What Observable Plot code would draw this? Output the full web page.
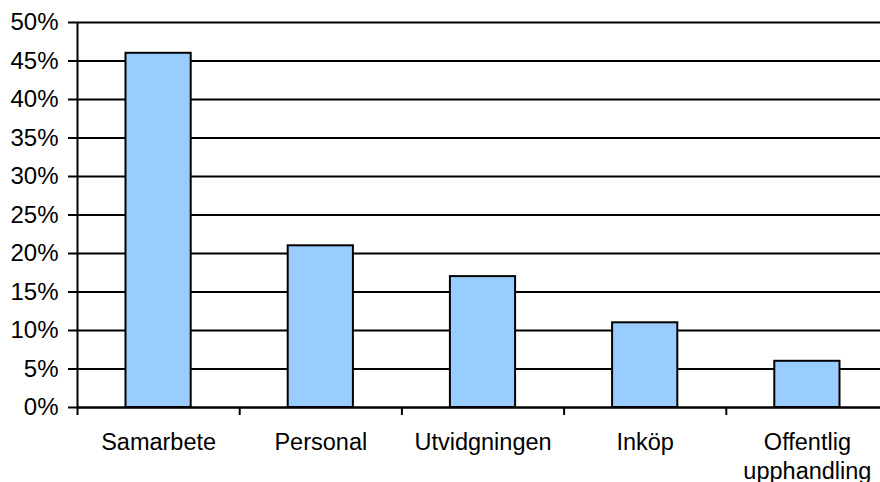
<!DOCTYPE html>
<html>
<head>
<meta charset="utf-8">
<script src="https://cdn.jsdelivr.net/npm/d3@7"></script>
<script src="https://cdn.jsdelivr.net/npm/@observablehq/plot@0.6"></script>
<style>
  html, body { margin: 0; padding: 0; background: #fff; overflow: hidden; }
  #chart { width: 880px; height: 482px; overflow: hidden; }
</style>
</head>
<body>
<div id="chart"></div>
<script>
const categories = ["Samarbete", "Personal", "Utvidgningen", "Inköp", "Offentlig\nupphandling"];
const values = [46, 21, 17, 11, 6];
const yTicks = [0, 5, 10, 15, 20, 25, 30, 35, 40, 45, 50];
const bandEdges = [0, 1, 2, 3, 4, 5];

const data = categories.map((c, i) => ({ cat: c, idx: i, value: values[i] }));

const chart = Plot.plot({
  width: 880,
  height: 482,
  marginLeft: 77,
  marginRight: -8,
  marginTop: 22,
  marginBottom: 75,
  style: { fontFamily: "'Liberation Sans', Arial, sans-serif", background: "#fff", color: "#000" },
  x: { type: "linear", domain: [0, 5], axis: null },
  y: { domain: [0, 50], axis: null },
  marks: [
    Plot.gridY(yTicks, { stroke: "#000", strokeOpacity: 1, strokeWidth: 2 }),
    Plot.rectY(data, {
      x1: "idx",
      x2: d => d.idx + 1,
      y: "value",
      insetLeft: 48.5,
      insetRight: 48.5,
      fill: "#99CCFF",
      stroke: "#000",
      strokeWidth: 2
    }),
    Plot.axisY({
      ticks: yTicks,
      tickSize: 9,
      tickPadding: 10,
      tickFormat: d => d + "%",
      fontSize: 24,
      stroke: "#000",
      strokeWidth: 2,
      label: null
    }),
    Plot.ruleX([0], { stroke: "#000", strokeWidth: 2 }),
    Plot.ruleY([0], { stroke: "#000", strokeWidth: 2 }),
    Plot.axisX({
      ticks: bandEdges,
      tickSize: 8,
      tickFormat: () => "",
      stroke: "#000",
      strokeWidth: 2,
      label: null
    }),
    Plot.text(data, {
      x: d => d.idx + 0.5,
      y: 0,
      text: "cat",
      lineAnchor: "top",
      dy: 21,
      lineHeight: 1.26,
      fontSize: 23.5,
      fill: "#000",
      textAnchor: "middle"
    })
  ]
});

document.getElementById("chart").appendChild(chart);
</script>
</body>
</html>
